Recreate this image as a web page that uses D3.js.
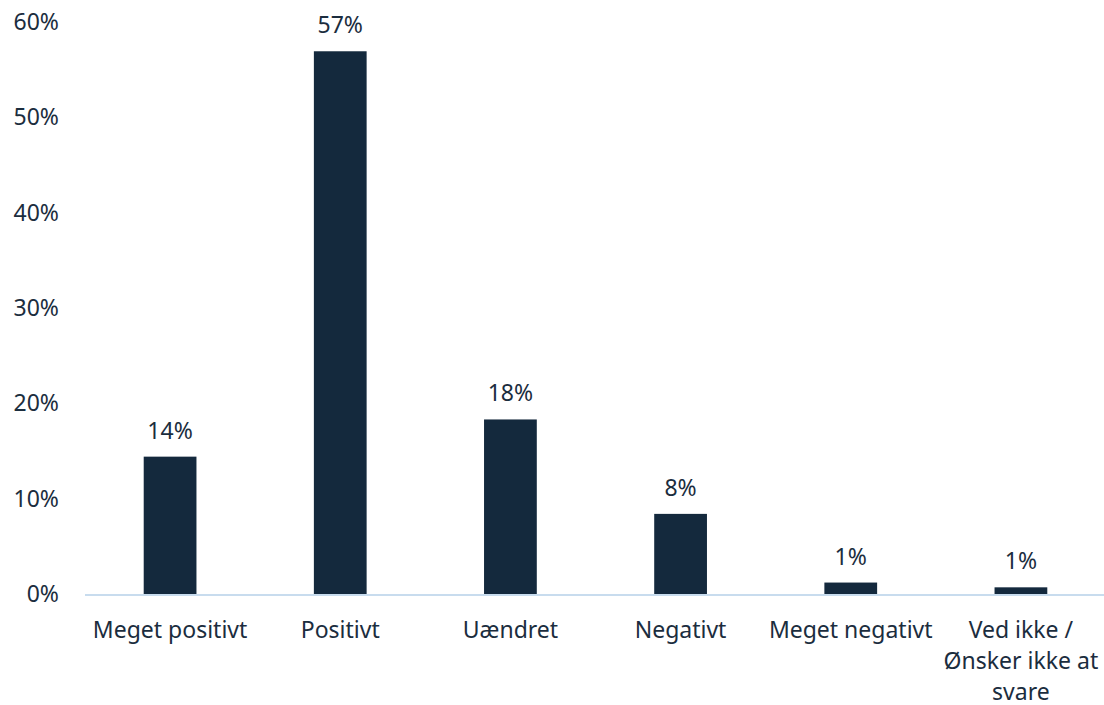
<!DOCTYPE html>
<meta charset="utf-8">
<script src="https://d3js.org/d3.v7.min.js"></script>
<style>
  body { margin: 0; background: #fff; }
  text { font-family: "Noto Sans", "Open Sans", sans-serif; fill: #1b2d3e; }
</style>
<svg id="chart" width="1104" height="705"></svg>
<script>
// data
var categories = ["Meget positivt", "Positivt", "Uændret", "Negativt", "Meget negativt", "Ved ikke /\nØnsker ikke at\nsvare"];
var values = [0.144, 0.569, 0.183, 0.084, 0.012, 0.007];
var valueLabels = ["14%", "57%", "18%", "8%", "1%", "1%"];
var yTicks = [0, 0.1, 0.2, 0.3, 0.4, 0.5, 0.6];

var svg = d3.select("#chart");

var x = d3.scaleBand()
  .domain(categories)
  .range([85, 1106])
  .paddingInner(0.69)
  .paddingOuter(0.345);

var y = d3.scaleLinear()
  .domain([0, 0.6])
  .range([594, 21.7]);

// y tick labels (no axis line, no gridlines)
svg.append("g")
  .selectAll("text")
  .data(yTicks)
  .enter()
  .append("text")
    .attr("x", 59)
    .attr("y", function(d) { return y(d); })
    .attr("dy", "0.35em")
    .attr("text-anchor", "end")
    .style("font-size", "23px")
    .text(d3.format(".0%"));

// bars
svg.append("g")
  .selectAll("rect")
  .data(values)
  .enter()
  .append("rect")
    .attr("x", function(d, i) { return x(categories[i]); })
    .attr("y", function(d) { return y(d); })
    .attr("width", x.bandwidth())
    .attr("height", function(d) { return y(0) - y(d); })
    .attr("fill", "#14293d");

// x axis baseline
svg.append("line")
  .attr("x1", 85)
  .attr("x2", 1104)
  .attr("y1", y(0) + 1)
  .attr("y2", y(0) + 1)
  .attr("stroke", "#c8dcee")
  .attr("stroke-width", 2);

// value labels above bars
svg.append("g")
  .selectAll("text")
  .data(values)
  .enter()
  .append("text")
    .attr("x", function(d, i) { return x(categories[i]) + x.bandwidth() / 2; })
    .attr("y", function(d) { return y(d) - 18; })
    .attr("text-anchor", "middle")
    .style("font-size", "23px")
    .text(function(d, i) { return valueLabels[i]; });

// category labels, may span several lines
var catText = svg.append("g")
  .selectAll("text")
  .data(categories)
  .enter()
  .append("text")
    .attr("x", function(d) { return x(d) + x.bandwidth() / 2; })
    .attr("y", 638)
    .attr("text-anchor", "middle")
    .style("font-size", "23px");

catText.each(function(d) {
  var t = d3.select(this);
  d.split("\n").forEach(function(line, i) {
    t.append("tspan")
      .attr("x", t.attr("x"))
      .attr("dy", i == 0 ? 0 : 31)
      .text(line);
  });
});
</script>
